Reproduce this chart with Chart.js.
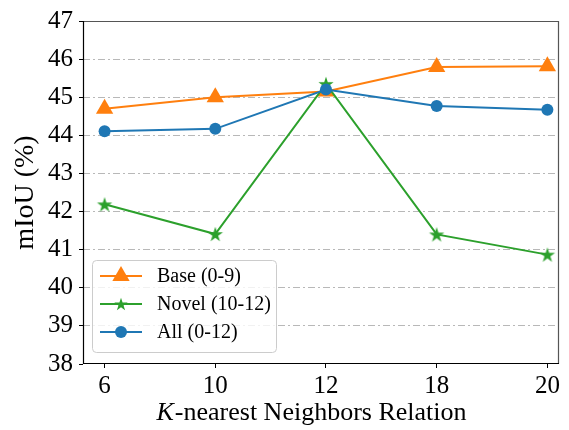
<!DOCTYPE html>
<html><head><meta charset="utf-8">
<script src="https://cdn.jsdelivr.net/npm/chart.js@4.4.0/dist/chart.umd.min.js"></script>
<style>html,body{margin:0;padding:0;background:#fff;}#wrap{width:569px;height:430px;}</style>
</head><body>
<div id="wrap"><canvas id="c" width="569" height="430"></canvas></div>
<script>
const categories = ['6', '10', '12', '18', '20'];
const yTickValues = [38, 39, 40, 41, 42, 43, 44, 45, 46, 47];
const seriesLabels = ['Base (0-9)', 'Novel (10-12)', 'All (0-12)'];
const baseValues = [44.70, 45.00, 45.15, 45.79, 45.81];
const novelValues = [42.19, 41.41, 45.35, 41.40, 40.87];
const allValues = [44.11, 44.17, 45.20, 44.77, 44.67];
const xTitleItalic = 'K';
const xTitleRest = '-nearest Neighbors Relation';
const yTitle = 'mIoU (%)';

const SERIF = '"Liberation Serif", "Times New Roman", serif';
const ORANGE = '#ff7f0e', GREEN = '#2ca02c', BLUE = '#1f77b4';

function makeStar(R, color) {
  const s = Math.ceil(2 * R + 2);
  const cv = document.createElement('canvas');
  cv.width = s; cv.height = s;
  const g = cv.getContext('2d');
  const cx = s / 2, cy = s / 2 + R * 0.1;
  const r = R * 0.381966;
  g.beginPath();
  for (let i = 0; i < 10; i++) {
    const a = -Math.PI / 2 + i * Math.PI / 5;
    const rr = i % 2 === 0 ? R : r;
    const px = cx + rr * Math.cos(a), py = cy + rr * Math.sin(a);
    if (i === 0) g.moveTo(px, py); else g.lineTo(px, py);
  }
  g.closePath();
  g.fillStyle = color; g.fill();
  return cv;
}
const starImg = makeStar(8, GREEN);
const starLegend = makeStar(7, GREEN);

const toPts = arr => arr.map((v, i) => ({x: i, y: v}));

const frameAndLegend = {
  id: 'frameAndLegend',
  beforeDatasetsDraw(chart) {
    const {ctx, chartArea: a} = chart;
    ctx.save();
    ctx.lineWidth = 1.2;
    ctx.strokeStyle = '#555';
    ctx.beginPath();
    ctx.moveTo(a.left, a.top + 0.5); ctx.lineTo(a.right, a.top + 0.5);
    ctx.moveTo(a.right - 0.5, a.top); ctx.lineTo(a.right - 0.5, a.bottom);
    ctx.stroke();
    ctx.strokeStyle = '#000';
    ctx.beginPath();
    ctx.moveTo(a.left + 0.5, a.top); ctx.lineTo(a.left + 0.5, a.bottom);
    ctx.moveTo(a.left, a.bottom - 0.5); ctx.lineTo(a.right, a.bottom - 0.5);
    ctx.stroke();
    ctx.restore();
  },
  afterDraw(chart) {
    const {ctx, chartArea: a} = chart;
    ctx.save();
    // x title with italic K
    ctx.fillStyle = '#000';
    ctx.textBaseline = 'alphabetic';
    const fI = 'italic 26px ' + SERIF, fN = '26px ' + SERIF;
    ctx.font = fI; const wI = ctx.measureText(xTitleItalic).width;
    ctx.font = fN; const wN = ctx.measureText(xTitleRest).width;
    const cx = (a.left + a.right) / 2 - 10;
    let x0 = cx - (wI + wN) / 2;
    const by = 420;
    ctx.font = fI; ctx.textAlign = 'left'; ctx.fillText(xTitleItalic, x0, by);
    ctx.font = fN; ctx.fillText(xTitleRest, x0 + wI + 1, by);

    // legend
    const lx = 92.5, ly = 260.5, lw = 184, lh = 92, rad = 4;
    ctx.beginPath();
    ctx.moveTo(lx + rad, ly);
    ctx.arcTo(lx + lw, ly, lx + lw, ly + lh, rad);
    ctx.arcTo(lx + lw, ly + lh, lx, ly + lh, rad);
    ctx.arcTo(lx, ly + lh, lx, ly, rad);
    ctx.arcTo(lx, ly, lx + lw, ly, rad);
    ctx.closePath();
    ctx.fillStyle = 'rgba(255,255,255,0.8)';
    ctx.fill();
    ctx.strokeStyle = '#cccccc'; ctx.lineWidth = 1;
    ctx.stroke();
    const rows = [276, 304, 332];
    chart.data.datasets.forEach((ds, i) => {
      const y = rows[i];
      ctx.strokeStyle = ds.borderColor; ctx.lineWidth = 2;
      ctx.beginPath(); ctx.moveTo(100, y); ctx.lineTo(142, y); ctx.stroke();
      const mx = 121;
      if (ds.pointStyle === 'triangle') {
        const r = 10;
        ctx.fillStyle = ds.borderColor;
        ctx.beginPath();
        ctx.moveTo(mx, y - r);
        ctx.lineTo(mx + Math.sin(2 * Math.PI / 3) * r, y - Math.cos(2 * Math.PI / 3) * r);
        ctx.lineTo(mx + Math.sin(4 * Math.PI / 3) * r, y - Math.cos(4 * Math.PI / 3) * r);
        ctx.closePath(); ctx.fill();
      } else if (ds.pointStyle === 'circle') {
        ctx.fillStyle = ds.borderColor;
        ctx.beginPath(); ctx.arc(mx, y, 6, 0, Math.PI * 2); ctx.fill();
      } else {
        ctx.drawImage(starLegend, mx - starLegend.width / 2, y - starLegend.height / 2);
      }
      ctx.fillStyle = '#000';
      ctx.font = '20px ' + SERIF;
      ctx.textAlign = 'left'; ctx.textBaseline = 'middle';
      ctx.fillText(ds.label, 157, y + 1);
    });
    ctx.restore();
  }
};

new Chart(document.getElementById('c'), {
  type: 'line',
  data: {
    datasets: [
      {label: seriesLabels[0], data: toPts(baseValues), borderColor: ORANGE, backgroundColor: ORANGE,
       pointStyle: 'triangle', pointRadius: 10, pointBorderWidth: 0, borderWidth: 2, order: 2},
      {label: seriesLabels[1], data: toPts(novelValues), borderColor: GREEN, backgroundColor: GREEN,
       pointStyle: starImg, pointRadius: 8, pointBorderWidth: 0, borderWidth: 2, order: 1},
      {label: seriesLabels[2], data: toPts(allValues), borderColor: BLUE, backgroundColor: BLUE,
       pointStyle: 'circle', pointRadius: 6, pointBorderWidth: 0, borderWidth: 2, order: 0}
    ]
  },
  options: {
    responsive: false, animation: false, devicePixelRatio: 1,
    layout: {padding: {top: 16, right: 9, left: 0, bottom: 0}},
    plugins: {legend: {display: false}, tooltip: {enabled: false}},
    elements: {line: {tension: 0}},
    scales: {
      x: {
        type: 'linear', min: -0.195, max: 4.105,
        afterBuildTicks: s => { s.ticks = categories.map((_, i) => ({value: i})); },
        afterFit: s => { s.height = 66; },
        ticks: {callback: v => categories[v], font: {family: SERIF, size: 25}, color: '#000', padding: 3, maxRotation: 0},
        grid: {color: 'rgba(0,0,0,0)', drawTicks: true, tickLength: 4, tickColor: '#000', tickWidth: 1},
        border: {display: false}
      },
      y: {
        type: 'linear', min: 38, max: 47,
        afterBuildTicks: s => { s.ticks = yTickValues.map(v => ({value: v})); },
        afterFit: s => { s.width = 83; },
        ticks: {font: {family: SERIF, size: 25}, color: '#000', padding: 6},
        grid: {
          color: c => (c.tick && (c.tick.value === 38 || c.tick.value === 47)) ? 'rgba(0,0,0,0)' : '#b8b8b8',
          lineWidth: 1, drawTicks: true, tickLength: 4, tickColor: '#000', tickWidth: 1, tickBorderDash: []
        },
        border: {display: false, dash: [7, 3, 2, 3]},
        title: {display: true, text: yTitle, font: {family: SERIF, size: 28, lineHeight: 1}, color: '#000', padding: {top: 12, bottom: 0}}
      }
    }
  },
  plugins: [frameAndLegend]
});
</script>
</body></html>
